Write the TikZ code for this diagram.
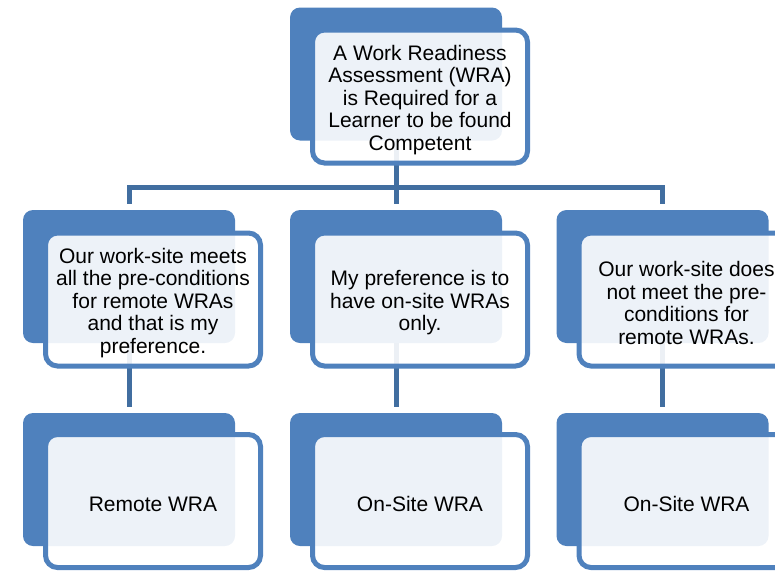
\documentclass[tikz,border=0pt]{standalone}
\usepackage{fontspec}
\setmainfont{Liberation Sans}
\definecolor{boxblue}{RGB}{79,129,189}
\definecolor{connblue}{RGB}{65,110,160}
\newcommand{\mystrut}{\rule{0pt}{22pt}}
\pgfdeclarelayer{background}
\pgfsetlayers{background,main}
\tikzset{
  backbox/.style={fill=boxblue, draw=none, rounded corners=10pt, minimum width=212pt, minimum height=133pt, inner sep=0pt},
  frontbox/.style={draw=boxblue, line width=5pt, fill=white, fill opacity=0.9, text opacity=1, rounded corners=12pt, minimum width=215pt, minimum height=133pt, inner sep=0pt, align=center, font=\fontsize{21}{22.5}\selectfont},
  conn/.style={draw=connblue, line width=5pt}
}
\begin{document}
\begin{tikzpicture}[x=1pt,y=-1pt]
\useasboundingbox (0,0) rectangle (775,570);
\clip (0,0) rectangle (775,570);
% back boxes
\node[backbox] (t) at (396,74) {};
\node[backbox] (m1) at (129,276.5) {};
\node[backbox] (m2) at (396,276.5) {};
\node[backbox] (m3) at (662.5,276.5) {};
\node[backbox] (b1) at (129,479.5) {};
\node[backbox] (b2) at (396,479.5) {};
\node[backbox] (b3) at (662.5,479.5) {};
% front boxes
\node[frontbox] (tf) at (420,96.5) {\mystrut A Work Readiness\\Assessment (WRA)\\is Required for a\\Learner to be found\\Competent};
\node[frontbox] (m1f) at (153,299.5) {\mystrut Our work-site meets\\all the pre-conditions\\for remote WRAs\\and that is my\\preference.};
\node[frontbox] (m2f) at (420,299.5) {\mystrut My preference is to\\have on-site WRAs\\only.};
\node[frontbox] (m3f) at (686.5,299.5) {\mystrut Our work-site does\\not meet the pre-\\conditions for\\remote WRAs.};
\node[frontbox] (b1f) at (153,501) {\mystrut Remote WRA};
\node[frontbox] (b2f) at (420,501) {\mystrut On-Site WRA};
\node[frontbox] (b3f) at (686.5,501) {\mystrut On-Site WRA};
% connectors
\begin{pgfonlayer}{background}
\coordinate (hub) at (396,187.5);
\draw[conn] (t.south) -- (hub);
\draw[conn] (m1.north) ++(0,-6) |- (hub);
\draw[conn] (m3.north) ++(0,-6) |- (hub);
\draw[conn, shorten >=6pt] (hub) -- (m2.north);
\draw[conn, shorten >=6pt] (m1.south) -- (b1.north);
\draw[conn, shorten >=6pt] (m2.south) -- (b2.north);
\draw[conn, shorten >=6pt] (m3.south) -- (b3.north);
\end{pgfonlayer}
\end{tikzpicture}
\end{document}
